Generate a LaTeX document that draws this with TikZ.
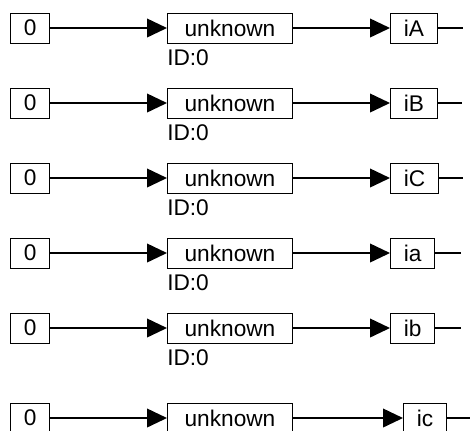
\documentclass[tikz,border=0pt]{standalone}
\usepackage{fontspec}
\setmainfont{Liberation Sans}
\usetikzlibrary{arrows.meta}
\tikzset{
  valbox/.style={draw, line width=0.75pt, inner xsep=10pt, inner ysep=0pt,
    minimum height=22.5pt, anchor=west, font=\fontsize{17}{20}\selectfont},
  opbox/.style={valbox, minimum width=93.75pt},
  idlabel/.style={anchor=north west, inner sep=0pt, font=\fontsize{17}{20}\selectfont},
  wire/.style={line width=1.3pt, arrows={-Triangle[length=15pt, width=14pt]}},
  tail/.style={line width=1.3pt},
}
\begin{document}
\begin{tikzpicture}[x=0.75pt, y=-0.75pt]
\useasboundingbox (0,0) rectangle (470,430);
% row iA
\node[valbox] (zA) at (10,28) {0};
\node[opbox] (uA) at (167,28) {unknown};
\node[idlabel] (idA) at (167,49) {ID:0};
\node[valbox] (oA) at (390,28) {iA};
\coordinate (eA) at (463,28);
\draw[wire] (zA) -- (uA);
\draw[wire] (uA) -- (oA);
\draw[tail] (oA) -- (eA);
% row iB
\node[valbox] (zB) at (10,103) {0};
\node[opbox] (uB) at (167,103) {unknown};
\node[idlabel] (idB) at (167,124) {ID:0};
\node[valbox] (oB) at (390,103) {iB};
\coordinate (eB) at (462,103);
\draw[wire] (zB) -- (uB);
\draw[wire] (uB) -- (oB);
\draw[tail] (oB) -- (eB);
% row iC
\node[valbox] (zC) at (10,178) {0};
\node[opbox] (uC) at (167,178) {unknown};
\node[idlabel] (idC) at (167,199) {ID:0};
\node[valbox] (oC) at (390,178) {iC};
\coordinate (eC) at (463,178);
\draw[wire] (zC) -- (uC);
\draw[wire] (uC) -- (oC);
\draw[tail] (oC) -- (eC);
% row ia
\node[valbox] (za) at (10,253) {0};
\node[opbox] (ua) at (167,253) {unknown};
\node[idlabel] (ida) at (167,274) {ID:0};
\node[valbox] (oa) at (390,253) {ia};
\coordinate (ea) at (461,253);
\draw[wire] (za) -- (ua);
\draw[wire] (ua) -- (oa);
\draw[tail] (oa) -- (ea);
% row ib
\node[valbox] (zb) at (10,328) {0};
\node[opbox] (ub) at (167,328) {unknown};
\node[idlabel] (idb) at (167,349) {ID:0};
\node[valbox] (ob) at (390,328) {ib};
\coordinate (eb) at (461,328);
\draw[wire] (zb) -- (ub);
\draw[wire] (ub) -- (ob);
\draw[tail] (ob) -- (eb);
% row ic
\node[valbox] (zc) at (10,418) {0};
\node[opbox] (uc) at (167,418) {unknown};
\node[valbox] (oc) at (403,418) {ic};
\coordinate (ec) at (470,418);
\draw[wire] (zc) -- (uc);
\draw[wire] (uc) -- (oc);
\draw[tail] (oc) -- (ec);
\end{tikzpicture}
\end{document}
